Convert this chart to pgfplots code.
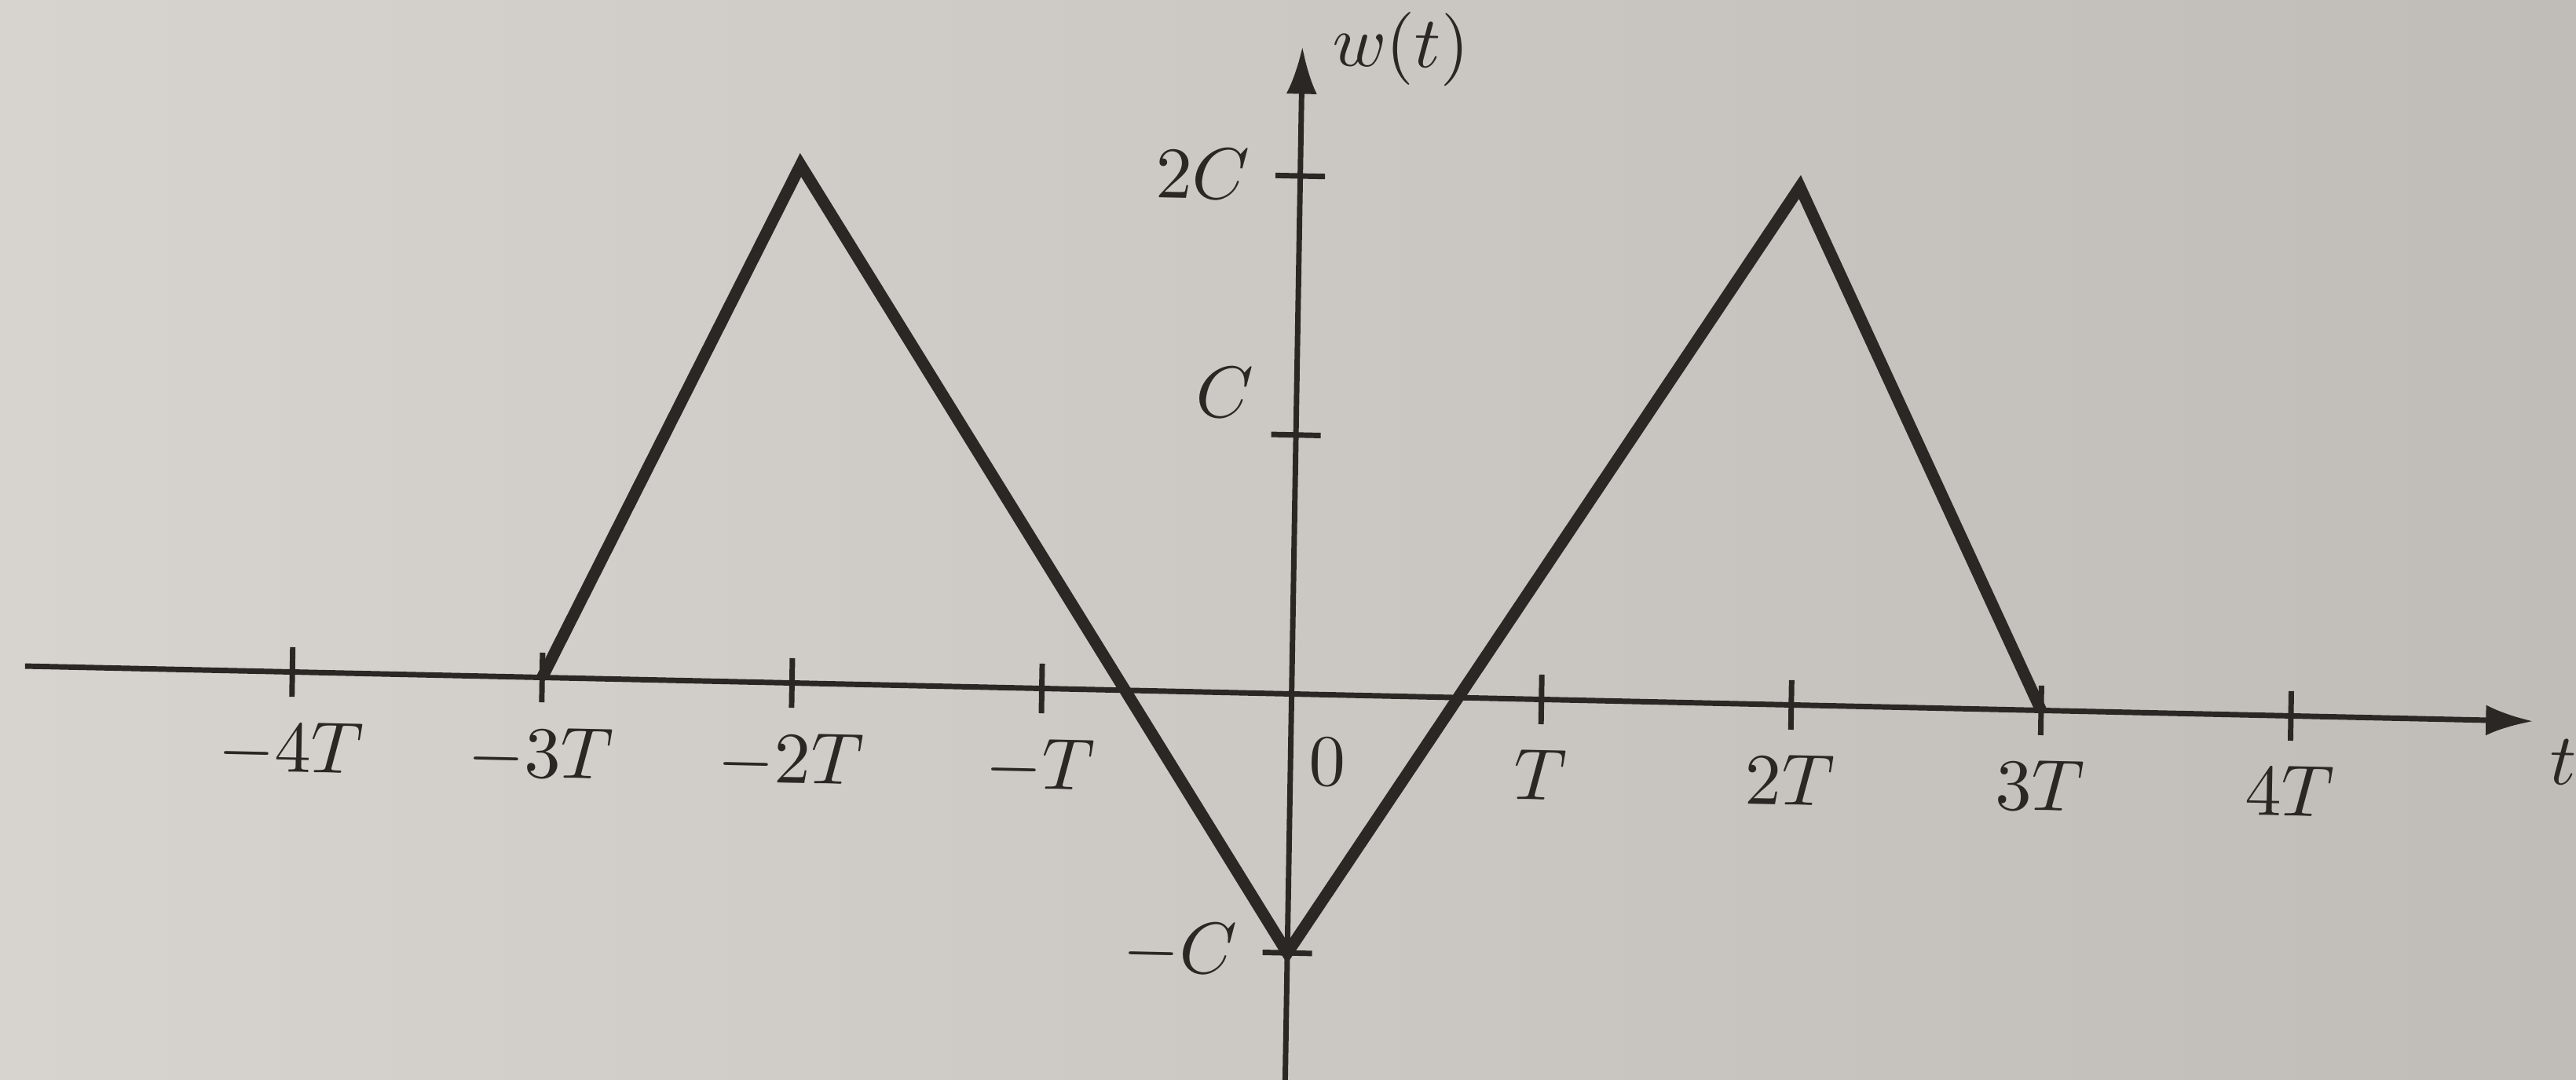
\documentclass[border=0pt]{standalone}
\usepackage{pgfplots}
\pgfplotsset{compat=1.18}
\usetikzlibrary{arrows.meta}

\definecolor{ink}{HTML}{2A2724}
\definecolor{paperA}{HTML}{D7D4CF}
\definecolor{paperB}{HTML}{C0BDB8}

\begin{document}
\begin{tikzpicture}
% paper tone; it also fixes the size of the page
\shade[left color=paperA, right color=paperB]
  (-177.3pt,-52.95pt) rectangle (176.3pt,95.24pt);

% the printed figure sits slightly skewed on the page
\begin{scope}[transform canvas={cm={0.99976,-0.02197,0.01666,0.99986,(0pt,0pt)}}]
\begin{axis}[
  at={(0pt,0pt)}, anchor=origin,
  x=34.3pt, y=35.55pt,
  xmin=-5.07, xmax=4.97, ymin=-1.6, ymax=2.5,
  axis lines=middle,
  axis line style={ink, line width=0.75pt},
  x axis line style={-{Latex[length=6.5pt,width=4.2pt]}},
  y axis line style={-{Latex[length=6.5pt,width=4.2pt]}},
  clip=false,
  xtick={-4,-3,-2,-1,1,2,3,4},
  xticklabels={$-4T$,$-3T$,$-2T$,$-T$,$T$,$2T$,$3T$,$4T$},
  ytick={-1,1,2},
  yticklabels={$-C$,,$2C$},
  tick align=center,
  major tick length=6.8pt,
  tick style={ink, line width=0.75pt},
  xticklabel style={yshift=0pt},
  yticklabel style={xshift=0pt},
  ticklabel style={text=ink},
]
% w(t): piecewise linear signal
\addplot[ink, line width=1.6pt] coordinates {
  (-3,0) (-2,2) (0,-1) (2,2) (3,0)
};

% axis labels
\node[anchor=south east, inner sep=0, text=ink] at (axis cs:0,1)
  [xshift=-5.7pt, yshift=2pt] {$C$};
\node[anchor=north west, inner sep=0, text=ink] at (axis cs:0,0)
  [xshift=2.4pt, yshift=-5.8pt] {$0$};
\node[anchor=north west, inner sep=0, text=ink] at (axis cs:4.97,0)
  [xshift=2.2pt, yshift=-2.2pt] {$t$};
\node[anchor=west, inner sep=0, text=ink] at (axis cs:0,2.5)
  [xshift=3.9pt] {$w(t)$};
\end{axis}
\end{scope}
\end{tikzpicture}
\end{document}
